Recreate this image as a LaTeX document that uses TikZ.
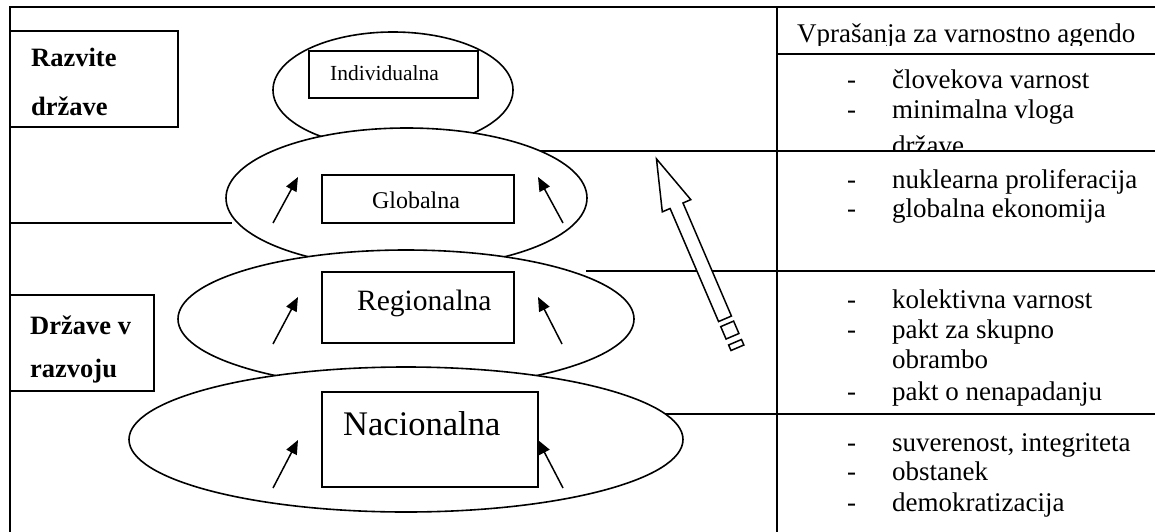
\documentclass[tikz,border=0pt]{standalone}
\usepackage{fontspec}
\setmainfont{Liberation Serif}
\usetikzlibrary{arrows.meta,shapes.geometric}
\begin{document}
\begin{tikzpicture}[x=1pt,y=-1pt,
  rule/.style={line width=1.8pt},
  level/.style={ellipse, draw, fill=white, line width=1.6pt, inner sep=0pt},
  lbox/.style={rectangle, draw, line width=1.6pt, inner sep=0pt},
  upar/.style={line width=1.5pt, -{Triangle[length=14pt,width=11.5pt]}},
  txt/.style={anchor=base west, inner sep=0pt},
  col/.style={txt, font=\fontsize{27}{30}\selectfont},
  bold/.style={txt, font=\fontsize{26.5}{30}\selectfont\bfseries},
]
\useasboundingbox (0,0) rectangle (1155,532);
% frame and table rules
\coordinate (tl) at (10,7);
\coordinate (tr) at (1155,7);
\coordinate (bl) at (10,532);
\coordinate (ct) at (777,7);
\coordinate (cb) at (777,532);
\coordinate (h1a) at (777,54);  \coordinate (h1b) at (1155,54);
\coordinate (h2a) at (530,151); \coordinate (h2b) at (1155,151);
\coordinate (h3a) at (586,271); \coordinate (h3b) at (1155,271);
\coordinate (h4a) at (658,414); \coordinate (h4b) at (1155,414);
\coordinate (l1a) at (10,223);  \coordinate (l1b) at (232,223);
\draw[rule] (tr) -- (tl) -- (bl);
\draw[rule] (ct) -- (cb);
\draw[rule] (h1a) -- (h1b);
\draw[rule] (h2a) -- (h2b);
\draw[rule] (h3a) -- (h3b);
\draw[rule] (h4a) -- (h4b);
\draw[rule] (l1a) -- (l1b);
% left labels
\node[lbox, minimum width=168pt, minimum height=96pt] (razb) at (94,79) {};
\node[bold] (raz1) at (31,67) {Razvite};
\node[bold] (raz2) at (31,115) {države};
\node[lbox, minimum width=144pt, minimum height=96pt] (drzb) at (82,343) {};
\node[bold] (drz1) at (30,334) {Države v};
\node[bold] (drz2) at (30,377) {razvoju};
% Individualna
\node[level, minimum width=240pt, minimum height=116pt] (ind) at (393,90) {};
\node[lbox, minimum width=169pt, minimum height=47pt] (indb) at (393.5,74.5) {};
\node[txt, font=\fontsize{21.5}{24}\selectfont] (indt) at (330,81) {Individualna};
% Globalna
\node[level, minimum width=361pt, minimum height=140pt] (glo) at (406.5,198) {};
\node[lbox, minimum width=192pt, minimum height=48pt] (glob) at (418,199) {};
\node[anchor=base, inner sep=0pt, font=\fontsize{24}{27}\selectfont] (glot) at (416,208) {Globalna};
\coordinate (g1s) at (273,223); \coordinate (g1e) at (298,177);
\coordinate (g2s) at (563,223); \coordinate (g2e) at (538,177);
\draw[upar] (g1s) -- (g1e);
\draw[upar] (g2s) -- (g2e);
% Regionalna
\node[level, minimum width=456pt, minimum height=138pt] (reg) at (406,319) {};
\node[lbox, minimum width=192pt, minimum height=71pt] (regb) at (418,307.5) {};
\node[txt, font=\fontsize{29.5}{33}\selectfont] (regt) at (357,310) {Regionalna};
\coordinate (r1s) at (273,344); \coordinate (r1e) at (298,297);
\coordinate (r2s) at (562,344); \coordinate (r2e) at (538,297);
\draw[upar] (r1s) -- (r1e);
\draw[upar] (r2s) -- (r2e);
% Nacionalna
\node[level, minimum width=554pt, minimum height=145pt] (nac) at (406,439.5) {};
\node[lbox, minimum width=216pt, minimum height=95pt] (nacb) at (430,439.5) {};
\node[txt, font=\fontsize{34.5}{38}\selectfont] (nact) at (343,435) {Nacionalna};
\coordinate (n1s) at (273,488); \coordinate (n1e) at (298,440);
\coordinate (n2s) at (563,488); \coordinate (n2e) at (538,440);
\draw[upar] (n1s) -- (n1e);
\draw[upar] (n2s) -- (n2e);
% big hollow striped arrow
\begin{scope}[shift={(725,318.8)}, rotate=113.2]
  \draw[line width=1.5pt, fill=white] (0,-7) -- (123,-7) -- (123,-15.5) -- (174,0)
        -- (123,15.5) -- (123,7) -- (0,7) -- cycle;
  \draw[line width=1.5pt, fill=white] (-5.5,-7) rectangle (-19,7);
  \draw[line width=1.5pt, fill=white] (-25.5,-7) rectangle (-31.5,7);
\end{scope}
% right column
\begin{scope}
  \clip (777,7) rectangle (1155,45.5);
  \node[col] (head) at (797,43) {Vprašanja za varnostno agendo};
\end{scope}
\node[col] (d11) at (847,89) {-};
\node[col] (t11) at (892,89) {človekova varnost};
\node[col] (d12) at (847,118) {-};
\node[col] (t12) at (892,118) {minimalna vloga};
\begin{scope}
  \clip (777,60) rectangle (1155,150.5);
  \node[col] (t13) at (892,154) {države};
\end{scope}
\node[col] (d21) at (847,188) {-};
\node[col] (t21) at (892,188) {nuklearna proliferacija};
\node[col] (d22) at (847,217) {-};
\node[col] (t22) at (892,217) {globalna ekonomija};
\node[col] (d31) at (847,308) {-};
\node[col] (t31) at (892,308) {kolektivna varnost};
\node[col] (d32) at (847,338) {-};
\node[col] (t32) at (892,338) {pakt za skupno};
\node[col] (t33) at (892,368) {obrambo};
\node[col] (d34) at (847,400) {-};
\node[col] (t34) at (892,400) {pakt o nenapadanju};
\node[col] (d41) at (847,451) {-};
\node[col] (t41) at (892,451) {suverenost, integriteta};
\node[col] (d42) at (847,480) {-};
\node[col] (t42) at (892,480) {obstanek};
\node[col] (d43) at (847,511) {-};
\node[col] (t43) at (892,511) {demokratizacija};
\end{tikzpicture}
\end{document}
